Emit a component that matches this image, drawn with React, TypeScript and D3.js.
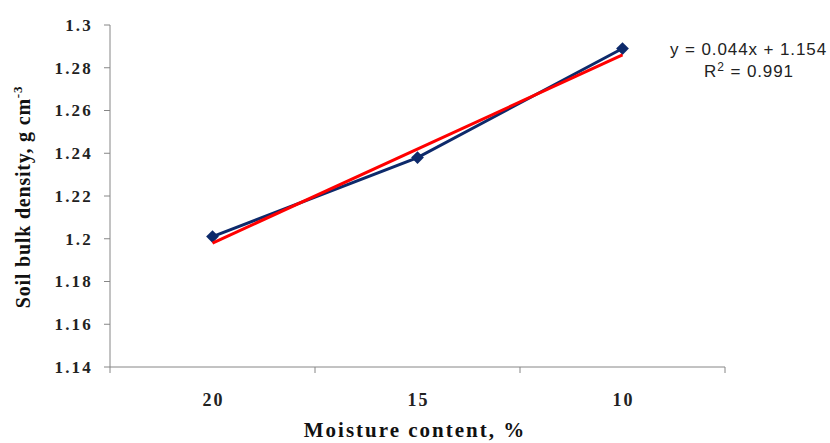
import React from "react";
import * as d3 from "d3";

const categories = ["20", "15", "10"];
const bulkDensity = [1.201, 1.238, 1.289];
const yTicks = [1.14, 1.16, 1.18, 1.2, 1.22, 1.24, 1.26, 1.28, 1.3];
const trendSlope = 0.044;
const trendIntercept = 1.154;
const equationLines = ["y = 0.044x + 1.154", "R² = 0.991"];

export default function App() {
  const W = 830, H = 443;
  const left = 110, right = 725, top = 25, bottom = 367;
  const x = d3.scaleBand<string>().domain(categories).range([left, right]);
  const y = d3.scaleLinear().domain([1.14, 1.3]).range([bottom, top]);
  const cx = (c: string) => (x(c) as number) + x.bandwidth() / 2;
  const line = d3.line<[number, number]>().x((d) => d[0]).y((d) => d[1]);
  const pts: [number, number][] = categories.map((c, i) => [cx(c), y(bulkDensity[i])]);
  const trendPts: [number, number][] = [
    [cx(categories[0]), y(trendSlope * 1 + trendIntercept)],
    [cx(categories[categories.length - 1]), y(trendSlope * categories.length + trendIntercept)],
  ];
  const boundaries = [left, ...categories.map((c) => (x(c) as number) + x.bandwidth())];
  const axisColor = "#868686";
  const serif = "'Liberation Serif', 'Times New Roman', serif";
  const sans = "'Liberation Sans', Arial, sans-serif";
  return (
    <svg width={W} height={H} style={{ position: "absolute", left: 0, top: 0 }}>
      <rect width={W} height={H} fill="#fff" />
      {/* y axis */}
      <line x1={left} x2={left} y1={top} y2={bottom} stroke={axisColor} strokeWidth={1} />
      {yTicks.map((t) => (
        <g key={t}>
          <line x1={left - 6} x2={left} y1={y(t)} y2={y(t)} stroke={axisColor} />
          <text x={93} y={y(t)} dy="0.35em" textAnchor="end" fontFamily={serif} fontSize={17} fontWeight="bold" letterSpacing={2.2} fill="#222">
            {String(t)}
          </text>
        </g>
      ))}
      {/* x axis */}
      <line x1={left} x2={right} y1={bottom} y2={bottom} stroke={axisColor} />
      {boundaries.map((b, i) => (
        <line key={i} x1={b} x2={b} y1={bottom} y2={bottom + 6} stroke={axisColor} />
      ))}
      {categories.map((c) => (
        <text key={c} x={cx(c) + 1} y={406} textAnchor="middle" fontFamily={serif} fontSize={18} fontWeight="bold" letterSpacing={2} fill="#222">
          {c}
        </text>
      ))}
      {/* series */}
      <path d={line(pts) || ""} fill="none" stroke="#0D2A6B" strokeWidth={3} />
      {pts.map((p, i) => (
        <rect key={i} x={p[0] - 4.5} y={p[1] - 4.5} width={9} height={9} fill="#0D2A6B" transform={`rotate(45 ${p[0]} ${p[1]})`} />
      ))}
      <path d={line(trendPts) || ""} fill="none" stroke="#FF0000" strokeWidth={3} />
      {/* equation */}
      <text x={827} y={55} textAnchor="end" fontFamily={sans} fontSize={17} letterSpacing={0.9} fill="#222">
        {equationLines[0]}
      </text>
      <text x={749} y={77} textAnchor="middle" fontFamily={sans} fontSize={17} letterSpacing={0.9} fill="#222">
        R<tspan dy={-6} fontSize={12}>2</tspan><tspan dy={6}> = 0.991</tspan>
      </text>
      {/* titles */}
      <text transform="translate(30,197) rotate(-90)" textAnchor="middle" fontFamily={serif} fontSize={20} fontWeight="bold" letterSpacing={0.8} fill="#111">
        Soil bulk density, g cm<tspan dy={-8} fontSize={13}>-3</tspan>
      </text>
      <text x={415} y={437} textAnchor="middle" fontFamily={serif} fontSize={21} fontWeight="bold" letterSpacing={2} fill="#111">
        Moisture content, %
      </text>
    </svg>
  );
}
